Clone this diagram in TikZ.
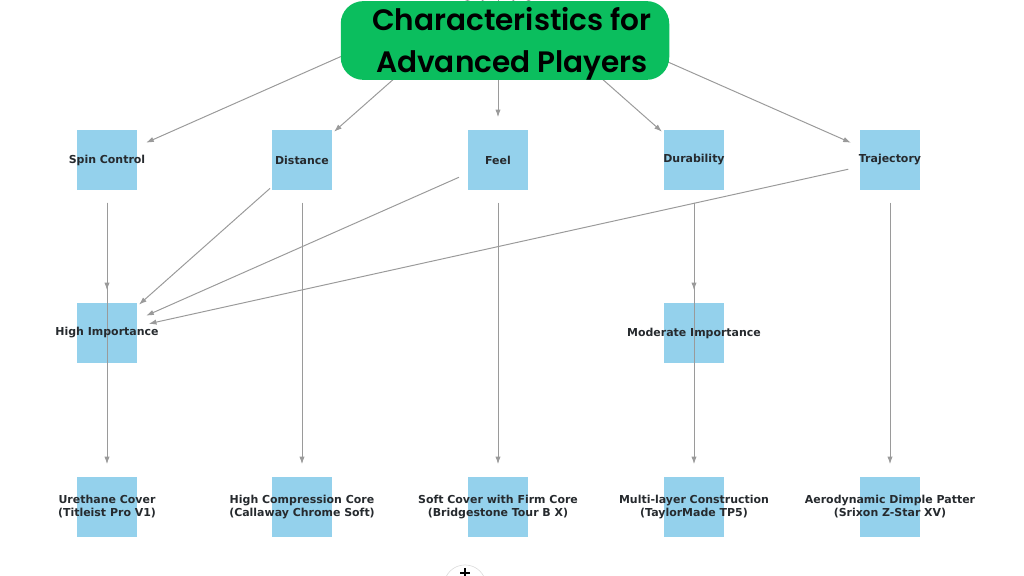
\documentclass[tikz,border=0pt]{standalone}
\usepackage{fontspec}
\setmainfont{DejaVu Sans}
\newfontfamily\titlefont{Poppins}[BoldFont={* SemiBold}]
\usetikzlibrary{arrows.meta}
\definecolor{boxblue}{HTML}{94D1EC}
\definecolor{titlegreen}{HTML}{0BBE5E}
\definecolor{edgegray}{HTML}{9A9A9A}
\definecolor{labelink}{HTML}{262A2E}
\begin{document}
\begin{tikzpicture}[x=0.025cm, y=-0.025cm,
  sq/.style={fill=boxblue, minimum width=42.5pt, minimum height=42.5pt, inner sep=0},
  lbl/.style={font=\fontsize{7.8}{9.3}\selectfont\bfseries, text=labelink, align=center},
  edge/.style={edgegray, line width=0.7pt, -{Latex[length=5.5pt,width=3.8pt]}, shorten <=30.4pt, shorten >=30.4pt}]
\useasboundingbox (0,0) rectangle (1024,576);
% squares, three rows
\node[sq] (sc) at (107,160) {};
\node[sq] (di) at (302,160) {};
\node[sq] (fe) at (498,160) {};
\node[sq] (du) at (694,160) {};
\node[sq] (tr) at (890,160) {};
\node[sq] (hi) at (107,333) {};
\node[sq] (mo) at (694,333) {};
\node[sq] (ur) at (107,507) {};
\node[sq] (hc) at (302,507) {};
\node[sq] (sf) at (498,507) {};
\node[sq] (ml) at (694,507) {};
\node[sq] (ae) at (890,507) {};
\coordinate (root) at (498,-13);
% edges, center to center
\foreach \t in {sc,di,fe,du,tr} { \draw[edge, shorten <=0pt] (root) -- (\t.center); }
\foreach \a/\b in {sc/ur, di/hc, fe/sf, du/ml, tr/ae, sc/hi, di/hi, fe/hi, tr/hi, du/mo} { \draw[edge] (\a.center) -- (\b.center); }
% title box on top of the edges
\node[fill=titlegreen, rounded corners=16pt, minimum width=233.6pt, minimum height=56pt] (title) at (505,40.5) {};
\node[font=\titlefont\fontsize{21}{29.7}\selectfont\bfseries, align=center] (titletext) at (512,43.5) {Characteristics for\\Advanced Players};
% labels
\node[lbl] at (sc) {Spin Control};
\node[lbl] at (di) {Distance};
\node[lbl] at (fe) {Feel};
\node[lbl] at (du) {Durability};
\node[lbl] at (tr) {Trajectory};
\node[lbl] at (hi) {High Importance};
\node[lbl] at (mo) {Moderate Importance};
\node[lbl] at (ur) {Urethane Cover\\(Titleist Pro V1)};
\node[lbl] at (hc) {High Compression Core\\(Callaway Chrome Soft)};
\node[lbl] at (sf) {Soft Cover with Firm Core\\(Bridgestone Tour B X)};
\node[lbl] at (ml) {Multi-layer Construction\\(TaylorMade TP5)};
\node[lbl] at (ae) {Aerodynamic Dimple Patter\\(Srixon Z-Star XV)};
% round button cut off at the bottom
\begin{scope}
\clip (0,0) rectangle (1024,576);
\node[circle, draw=black!15, fill=white, minimum size=30pt, inner sep=0] (plus) at (465,586) {};
\draw[black, line width=0.8pt] (465,568) -- (465,578) (460,573) -- (470,573);
\end{scope}
\end{tikzpicture}
\end{document}
